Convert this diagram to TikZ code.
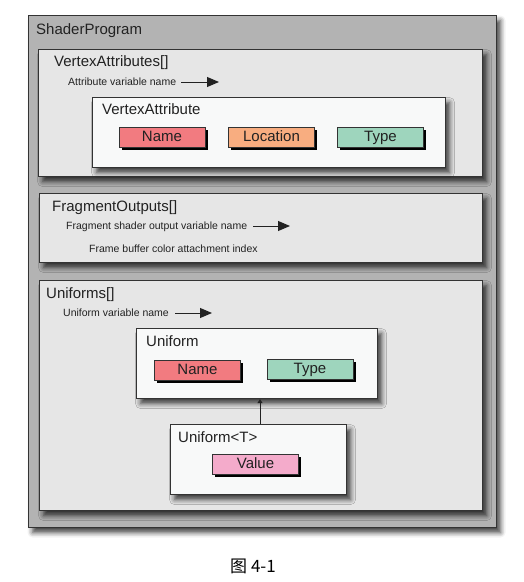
\documentclass[tikz,border=0pt]{standalone}
\usepackage{fontspec}
\setmainfont{Liberation Sans}
\newfontfamily\cjkfont{Noto Sans CJK SC}
\usetikzlibrary{arrows.meta,shadows,shadows.blur}
\definecolor{outerfill}{HTML}{B3B3B3}
\definecolor{midfill}{HTML}{E6E6E6}
\definecolor{innerfill}{HTML}{F8F9F9}
\definecolor{edge}{HTML}{333333}
\definecolor{ink}{HTML}{222222}
\definecolor{namecol}{HTML}{F27B80}
\definecolor{loccol}{HTML}{F8AD80}
\definecolor{typecol}{HTML}{9ED5BD}
\definecolor{valcol}{HTML}{F4ABCB}
\begin{document}
\begin{tikzpicture}[x=1pt,y=-1pt,
  frame/.style={draw=edge, line width=1.1pt, inner sep=0pt, anchor=north west,
    blur shadow={shadow xshift=4pt, shadow yshift=-5pt, shadow blur radius=5pt, shadow opacity=75}},
  tag/.style={draw=edge, line width=0.8pt, inner sep=0pt, text=ink,
    minimum width=86pt, minimum height=20pt, text height=11pt, text depth=3pt,
    font=\fontsize{15}{18}\selectfont,
    drop shadow={shadow xshift=2.5pt, shadow yshift=-2.5pt, fill=black, opacity=1}},
  big/.style={anchor=base west, inner sep=0pt, text=ink, font=\fontsize{15}{18}\selectfont},
  small/.style={anchor=base west, inner sep=0pt, text=ink, font=\fontsize{10.5}{12}\selectfont},
  ptr/.style={draw=ink, line width=1pt, -{Triangle[length=12pt,width=10pt]}},
  link/.style={draw=ink, line width=1pt, -{Triangle[length=4pt,width=5pt]}}]
\useasboundingbox (0,0) rectangle (523,582);

% outer
\node[frame, fill=outerfill, minimum width=468pt, minimum height=512pt] (prog) at (28,15) {};
\node[big] (progt) at (36,34) {ShaderProgram};

% vertex attributes
\node[frame, fill=midfill, minimum width=444pt, minimum height=127pt] (va) at (38,49) {};
\node[big] (vat) at (54,66.5) {VertexAttributes[]};
\node[small] (vas) at (68,85) {Attribute variable name};
\coordinate (a1s) at (181,82);
\coordinate (a1e) at (219,82);
\draw[ptr] (a1s) -- (a1e);
\node[frame, fill=innerfill, minimum width=353pt, minimum height=70pt] (vb) at (92,97) {};
\node[big] (vbt) at (102,114) {VertexAttribute};
\node[tag, fill=namecol] (vname) at (162,137) {Name};
\node[tag, fill=loccol] (vloc) at (271.5,137) {Location};
\node[tag, fill=typecol] (vtype) at (380.5,137) {Type};

% fragment outputs
\node[frame, fill=midfill, minimum width=443pt, minimum height=69pt] (fo) at (39,193) {};
\node[big] (fot) at (52,211) {FragmentOutputs[]};
\node[small] (fos) at (66,229) {Fragment shader output variable name};
\coordinate (a2s) at (253,226);
\coordinate (a2e) at (290,226);
\draw[ptr] (a2s) -- (a2e);
\node[small] (fos2) at (89,252) {Frame buffer color attachment index};

% uniforms
\node[frame, fill=midfill, minimum width=443pt, minimum height=230pt] (un) at (39,280) {};
\node[big] (unt) at (46,298) {Uniforms[]};
\node[small] (uns) at (63,316) {Uniform variable name};
\coordinate (a3s) at (175,313);
\coordinate (a3e) at (212,313);
\draw[ptr] (a3s) -- (a3e);

\node[frame, fill=innerfill, minimum width=241pt, minimum height=70pt] (ub) at (136,328) {};
\node[big] (ubt) at (146,346) {Uniform};
\node[tag, fill=namecol] (uname) at (197.5,370) {Name};
\node[tag, fill=typecol] (utype) at (310,369) {Type};

\node[frame, fill=innerfill, minimum width=176pt, minimum height=70pt] (ut) at (170,424) {};
\node[big] (utt) at (178,442) {Uniform<T>};
\node[tag, fill=valcol] (uval) at (255.5,464) {Value};

\coordinate (lk) at (260,424);
\draw[link] (lk) -- (lk |- ub.south);

% caption
\node[anchor=base, inner sep=0pt, text=black, font=\cjkfont\fontsize{17}{20}\selectfont] (cap) at (253,572) {图 4-1};
\end{tikzpicture}
\end{document}
